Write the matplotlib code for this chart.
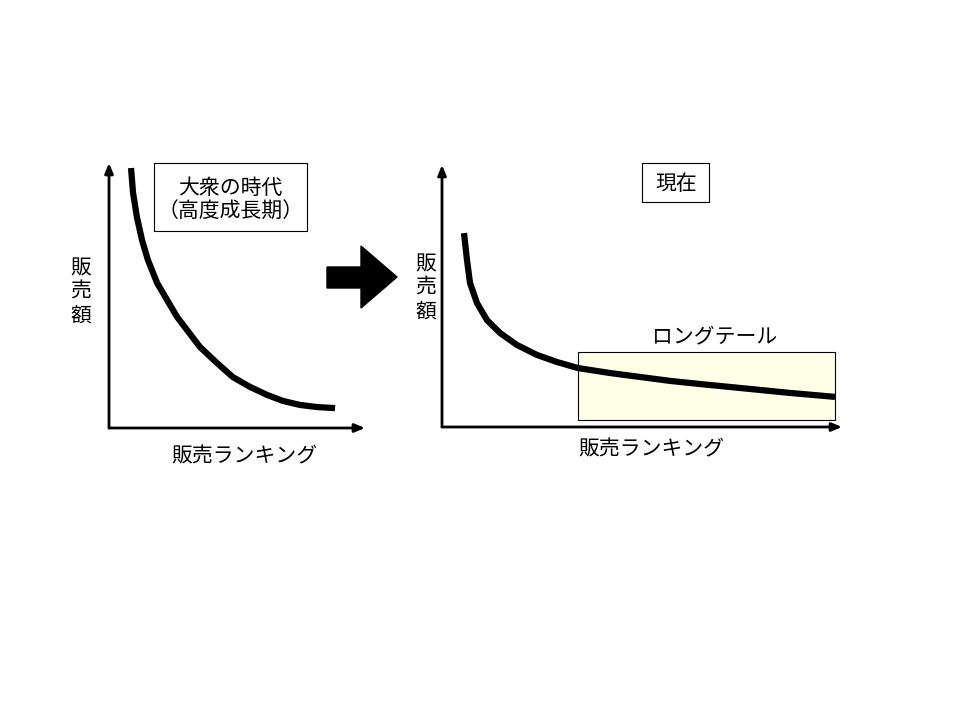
import matplotlib
matplotlib.use("Agg")
import matplotlib.pyplot as plt
from matplotlib.patches import Rectangle, Polygon

plt.rcParams['font.family'] = ['Noto Sans CJK JP', 'DejaVu Sans']

# left panel: mass market era (rank 0-100, sales 0-100)
mass_rank = [8.6, 9.4, 10.9, 12.9, 15.2, 18.8, 22.7, 26.6, 35.5, 42.2,
             48.4, 55.1, 61.7, 68.0, 74.6, 81.3, 88.3]
mass_sales = [98.1, 88.7, 79.6, 70.9, 63.4, 54.7, 48.3, 41.9, 30.6, 24.5,
              19.2, 15.5, 12.5, 10.2, 8.7, 7.9, 7.5]

# right panel: today, long tail
now_rank = [5.5, 6.25, 7.0, 8.75, 11.25, 14.5, 18.75, 23.75, 28.75, 34.0,
            42.0, 49.5, 57.0, 64.5, 74.5, 87.0, 98.25]
now_sales = [74.0, 63.7, 55.0, 47.3, 40.8, 35.9, 31.3, 27.5, 24.8, 22.5,
             20.6, 19.1, 17.6, 16.4, 14.9, 13.0, 11.5]

tail_start, tail_end = 34.0, 98.25
tail_low, tail_high = 2.7, 28.6

x_label = '販売ランキング'
y_label = '販\n売\n額'
left_title = '大衆の時代\n（高度成長期）'
right_title = '現在'
tail_label = 'ロングテール'

W, H = 960, 720
fig = plt.figure(figsize=(9.6, 7.2), dpi=100)


def panel(x0, x1, y0, y1):
    # pixel box -> figure fraction
    return fig.add_axes([x0 / W, (H - y1) / H, (x1 - x0) / W, (y1 - y0) / H])


def draw_axes(ax):
    ax.set_xlim(0, 100)
    ax.set_ylim(0, 100)
    ax.axis('off')
    arrow = dict(arrowstyle='-|>,head_length=0.6,head_width=0.25', lw=2, color='black',
                 shrinkA=0, shrinkB=0)
    ax.annotate('', xy=(1, 0), xytext=(0, 0), xycoords='axes fraction',
                arrowprops=arrow, annotation_clip=False)
    ax.annotate('', xy=(0, 1), xytext=(0, 0), xycoords='axes fraction',
                arrowprops=arrow, annotation_clip=False)


ax1 = panel(109, 365, 163, 428)
draw_axes(ax1)
ax1.plot(mass_rank, mass_sales, color='black', lw=4.5, solid_capstyle='butt',
         solid_joinstyle='round', clip_on=False)

ax2 = panel(442, 842, 165, 427)
draw_axes(ax2)
ax2.add_patch(Rectangle((tail_start, tail_low), tail_end - tail_start, tail_high - tail_low,
                        facecolor='#FFFFE8', edgecolor='black', lw=0.8, zorder=1))
ax2.plot(now_rank, now_sales, color='black', lw=4.5, solid_capstyle='butt',
         solid_joinstyle='round', clip_on=False, zorder=2)

# overlay in pixel coordinates for labels, boxes and the big arrow
ov = fig.add_axes([0, 0, 1, 1], zorder=5)
ov.set_xlim(0, W)
ov.set_ylim(H, 0)
ov.axis('off')
ov.patch.set_alpha(0)

fs = 15
ov.add_patch(Rectangle((154, 163), 153, 68, facecolor='white', edgecolor='black', lw=0.8))
ov.text(230.5, 200, left_title, ha='center', va='center', fontsize=fs, linespacing=1.15)
ov.add_patch(Rectangle((642, 163), 67, 39, facecolor='white', edgecolor='black', lw=0.8))
ov.text(676, 184, right_title, ha='center', va='center', fontsize=fs)
ov.text(715, 336, tail_label, ha='center', va='center', fontsize=fs)

ov.text(81, 292, y_label, ha='center', va='center', fontsize=fs, linespacing=1.1)
ov.text(426, 288, y_label, ha='center', va='center', fontsize=fs, linespacing=1.1)
ov.text(244, 456, x_label, ha='center', va='center', fontsize=fs)
ov.text(651, 449, x_label, ha='center', va='center', fontsize=fs)

ov.add_patch(Polygon([(327, 267), (361, 267), (361, 246), (397, 277), (361, 308),
                      (361, 288), (327, 288)], closed=True, facecolor='black',
                     edgecolor='black'))

fig.savefig('out.png', dpi=100)
